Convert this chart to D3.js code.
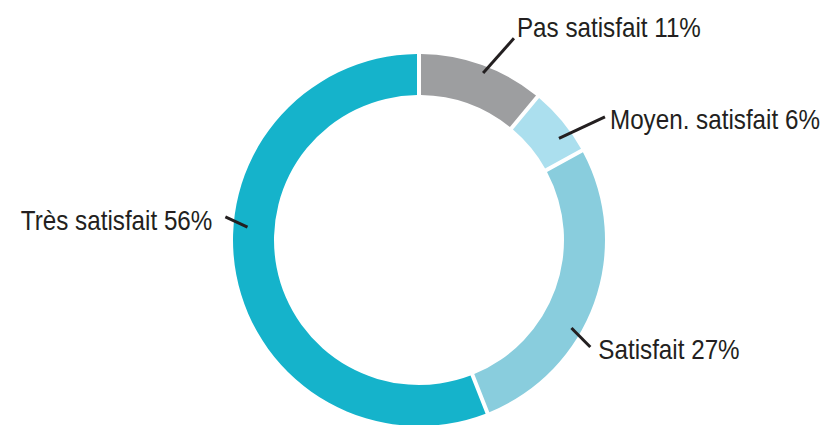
<!DOCTYPE html>
<html>
<head>
<meta charset="utf-8">
<script src="https://cdn.jsdelivr.net/npm/d3@7"></script>
<style>
  html, body { margin: 0; padding: 0; background: #fff; }
  svg { display: block; }
</style>
</head>
<body>
<div id="chart"></div>
<script>
// Data
const categories = ["Pas satisfait", "Moyen. satisfait", "Satisfait", "Très satisfait"];
const values = [11, 6, 27, 56];
const colors = ["#9d9ea0", "#abdfee", "#89cddd", "#15b3cb"];

// Layout
const width = 821;
const height = 425;
const cx = 419, cy = 240;
const outerR = 186, innerR = 145;

// Leader line placement per slice: [inner angle, inner r, outer angle, outer r] (degrees from top, clockwise)
const leaders = [
    [21, 179, 25.2, 223],
    [54, 173, 56.5, 223],
    [120, 176, 122, 202],
    [274.3, 172, 276.8, 195]
];
// Label anchor offsets from the outer end of the leader
const labelOffsets = [[3, -1], [5, 12], [8, 12], [-13, 13]];
const labelAnchors = ["start", "start", "start", "end"];
const narrow = 0.85; // condense to mimic Arial Narrow

const svg = d3.select("#chart").append("svg")
    .attr("width", width)
    .attr("height", height);

const g = svg.append("g").attr("transform", `translate(${cx},${cy})`);

const pie = d3.pie().sort(null).value(d => d)(values);

const arc = d3.arc()
    .innerRadius(innerR)
    .outerRadius(outerR)
    .padAngle(4 / outerR)
    .padRadius(outerR);

g.selectAll("path.slice")
    .data(pie)
    .enter().append("path")
    .attr("class", "slice")
    .attr("d", arc)
    .attr("fill", (d, i) => colors[i]);

function polar(angleDeg, r) {
    const a = angleDeg * Math.PI / 180;
    return [r * Math.sin(a), -r * Math.cos(a)];
}

categories.forEach((c, i) => {
    const [a1, r1, a2, r2] = leaders[i];
    const p1 = polar(a1, r1);
    const p2 = polar(a2, r2);
    g.append("line")
        .attr("x1", p1[0]).attr("y1", p1[1])
        .attr("x2", p2[0]).attr("y2", p2[1])
        .attr("stroke", "#231f20")
        .attr("stroke-width", 3);

    const tx = p2[0] + labelOffsets[i][0];
    const ty = p2[1] + labelOffsets[i][1];
    g.append("text")
        .attr("transform", `translate(${tx},${ty}) scale(${narrow},1)`)
        .attr("text-anchor", labelAnchors[i])
        .attr("font-family", "'Liberation Sans', Arial, sans-serif")
        .attr("font-size", "28.5px")
        .attr("fill", "#231f20")
        .text(`${c} ${values[i]}%`);
});
</script>
</body>
</html>
